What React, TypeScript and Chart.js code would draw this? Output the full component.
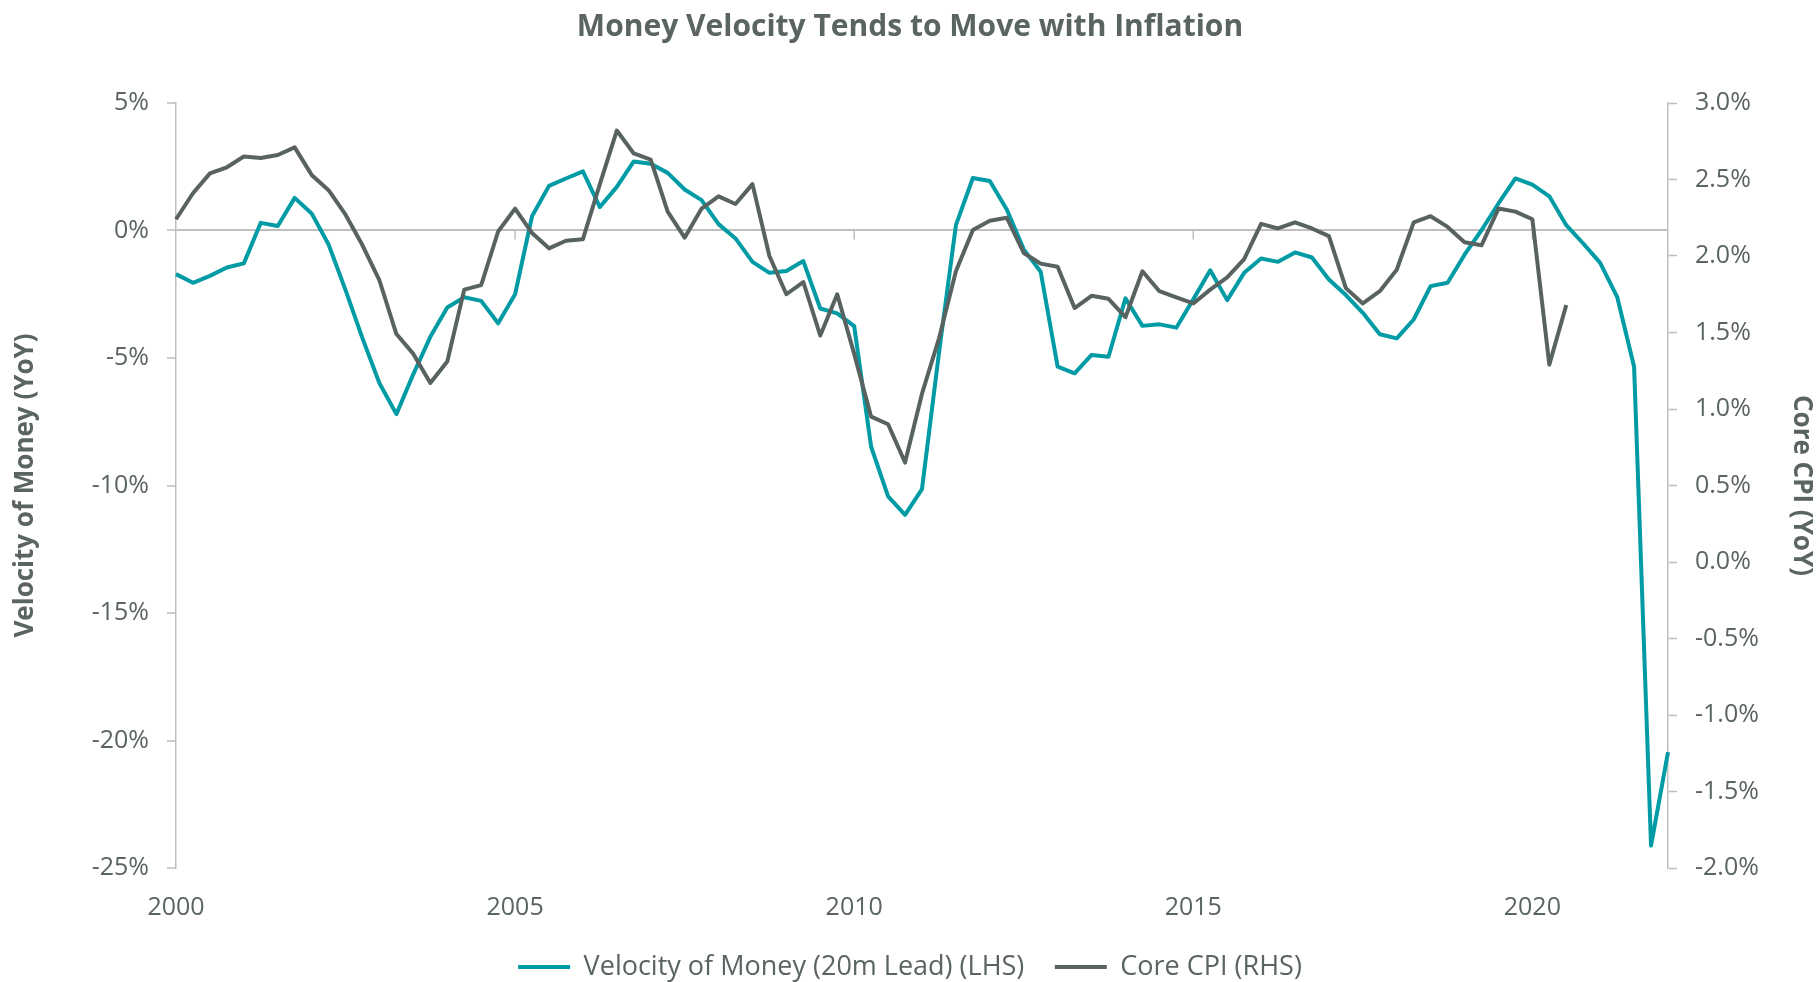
import React, { useEffect, useRef } from 'react';
import { Chart, registerables } from 'chart.js';

Chart.register(...registerables);

// Quarterly observations, 2000 Q1 .. 2022 Q1
const firstYear = 2000;
const quarterCount = 89;
const quarterLabels: string[] = [];
for (let i = 0; i < quarterCount; i++) {
  quarterLabels.push(`${firstYear + Math.floor(i / 4)} Q${(i % 4) + 1}`);
}

// Velocity of Money, YoY %, shifted 20 months forward (left axis)
const velocity: number[] = [
  -1.71, -2.05, -1.78, -1.45, -1.29, 0.30, 0.18, 1.28, 0.67, -0.55,
  -2.34, -4.23, -5.99, -7.20, -5.63, -4.17, -3.02, -2.62, -2.76, -3.64,
  -2.50, 0.56, 1.75, 2.04, 2.32, 0.92, 1.71, 2.71, 2.62, 2.26,
  1.61, 1.19, 0.25, -0.31, -1.23, -1.66, -1.59, -1.20, -3.06, -3.25,
  -3.75, -8.48, -10.43, -11.15, -10.14, -4.80, 0.21, 2.06, 1.94, 0.82,
  -0.74, -1.62, -5.34, -5.60, -4.88, -4.95, -2.66, -3.74, -3.68, -3.81,
  -2.70, -1.56, -2.73, -1.66, -1.10, -1.23, -0.86, -1.06, -1.92, -2.53,
  -3.23, -4.07, -4.23, -3.49, -2.18, -2.05, -0.95, 0.01, 1.06, 2.04,
  1.80, 1.34, 0.21, -0.51, -1.27, -2.60, -5.34, -24.12, -20.46,
];

// Core CPI, YoY % (right axis)
const coreCpi: number[] = [
  2.24, 2.41, 2.54, 2.58, 2.65, 2.64, 2.66, 2.71, 2.53, 2.43,
  2.27, 2.07, 1.84, 1.49, 1.36, 1.17, 1.31, 1.78, 1.81, 2.16,
  2.31, 2.15, 2.05, 2.10, 2.11, 2.47, 2.82, 2.67, 2.63, 2.29,
  2.12, 2.31, 2.39, 2.34, 2.47, 2.00, 1.75, 1.83, 1.48, 1.75,
  1.36, 0.95, 0.90, 0.65, 1.10, 1.46, 1.90, 2.17, 2.23, 2.25,
  2.02, 1.95, 1.93, 1.66, 1.74, 1.72, 1.60, 1.90, 1.77, 1.73,
  1.69, 1.78, 1.86, 1.98, 2.21, 2.18, 2.22, 2.18, 2.13, 1.79,
  1.69, 1.77, 1.91, 2.22, 2.26, 2.19, 2.09, 2.07, 2.31, 2.29,
  2.24, 1.29, 1.68,
];

const leftTicks = { min: -25, max: 5, step: 5 };
const rightTicks = { min: -2, max: 3, step: 0.5 };
const yearLabelEvery = 20; // every 5 years = 20 quarters

const TEAL = '#009BA4';
const GRAY = '#586361';
const TEXT = '#5A6461';
const AXIS = '#BFBFBF';
const FONT = '"Open Sans", "Noto Sans", sans-serif';

const zeroLineTicks = {
  id: 'zeroLineTicks',
  beforeDatasetsDraw(chart: any) {
    const xs = chart.scales.x;
    const ys = chart.scales.yL;
    const ctx = chart.ctx;
    const y0 = ys.getPixelForValue(0);
    ctx.save();
    ctx.strokeStyle = AXIS;
    ctx.lineWidth = 1.5;
    for (let i = yearLabelEvery; i < quarterLabels.length; i += yearLabelEvery) {
      const px = xs.getPixelForValue(i);
      ctx.beginPath();
      ctx.moveTo(px, y0);
      ctx.lineTo(px, y0 + 9);
      ctx.stroke();
    }
    ctx.restore();
  },
};

export default function App() {
  const canvasRef = useRef<HTMLCanvasElement | null>(null);

  useEffect(() => {
    if (!canvasRef.current) return;
    Chart.defaults.font.family = FONT;
    const chart = new Chart(canvasRef.current, {
      type: 'line',
      data: {
        labels: quarterLabels,
        datasets: [
          {
            label: 'Velocity of Money (20m Lead) (LHS)',
            data: velocity,
            yAxisID: 'yL',
            borderColor: TEAL,
            backgroundColor: TEAL,
            borderWidth: 4,
            pointRadius: 0,
            tension: 0,
            borderJoinStyle: 'round',
            order: 1,
          },
          {
            label: 'Core CPI (RHS)',
            data: coreCpi,
            yAxisID: 'yR',
            borderColor: GRAY,
            backgroundColor: GRAY,
            borderWidth: 4,
            pointRadius: 0,
            tension: 0,
            borderJoinStyle: 'round',
            order: 0,
          },
        ],
      },
      options: {
        animation: false,
        responsive: true,
        maintainAspectRatio: false,
        layout: { padding: { left: 0, right: 0, top: 0, bottom: -8.5 } },
        plugins: {
          tooltip: { enabled: false },
          title: {
            display: true,
            text: 'Money Velocity Tends to Move with Inflation',
            color: TEXT,
            font: { size: 30, weight: 'bold', family: FONT },
            padding: { top: 9.8, bottom: 57.2 },
          },
          legend: {
            position: 'bottom',
            labels: {
              sort: (a: any, b: any) => a.datasetIndex - b.datasetIndex,
              boxWidth: 52,
              boxHeight: 4,
              padding: 30.5,
              color: TEXT,
              font: { size: 27, family: FONT },
              generateLabels(c: any) {
                const items = Chart.defaults.plugins.legend.labels.generateLabels(c);
                items.forEach((it: any) => {
                  it.lineWidth = 0;
                  it.fillStyle = it.strokeStyle;
                });
                return items;
              },
            },
          },
        },
        scales: {
          x: {
            type: 'category',
            grid: { display: false, drawTicks: false },
            border: { display: false },
            ticks: {
              autoSkip: false,
              maxRotation: 0,
              minRotation: 0,
              padding: 25,
              color: TEXT,
              font: { size: 25, family: FONT },
              callback: (_v: any, i: number) =>
                i % yearLabelEvery === 0 ? String(firstYear + i / 4) : '',
            },
            afterFit: (s: any) => {
              s.height = 55;
            },
          },
          yL: {
            type: 'linear',
            position: 'left',
            min: leftTicks.min,
            max: leftTicks.max,
            ticks: {
              stepSize: leftTicks.step,
              padding: 18,
              color: TEXT,
              font: { size: 25, family: FONT },
              callback: (v: any) => `${v}%`,
            },
            grid: {
              drawOnChartArea: true,
              color: (ctx: any) => (ctx.tick && ctx.tick.value === 0 ? AXIS : 'rgba(0,0,0,0)'),
              lineWidth: 2,
              tickColor: AXIS,
              tickWidth: 1.5,
              tickLength: 9,
            },
            border: { display: true, color: AXIS, width: 1.5 },
            title: {
              display: true,
              text: 'Velocity of Money (YoY)',
              color: TEXT,
              font: { size: 26, weight: 'bold', family: FONT },
              padding: { top: 9.9, bottom: 0 },
            },
            afterFit: (s: any) => {
              s.width = 176;
            },
          },
          yR: {
            type: 'linear',
            position: 'right',
            min: rightTicks.min,
            max: rightTicks.max,
            ticks: {
              stepSize: rightTicks.step,
              padding: 18,
              color: TEXT,
              font: { size: 25, family: FONT },
              callback: (v: any) => `${Number(v).toFixed(1)}%`,
            },
            grid: {
              drawOnChartArea: false,
              tickColor: AXIS,
              tickWidth: 1.5,
              tickLength: 9,
            },
            border: { display: true, color: AXIS, width: 1.5 },
            title: {
              display: true,
              text: 'Core CPI (YoY)',
              color: TEXT,
              font: { size: 26, weight: 'bold', family: FONT },
              padding: { top: 3.4, bottom: 0 },
            },
            afterFit: (s: any) => {
              s.width = 152;
            },
          },
        },
      },
      plugins: [zeroLineTicks],
    } as any);
    return () => chart.destroy();
  }, []);

  return (
    <div style={{ position: 'absolute', left: 0, top: 0, width: 1820, height: 982, background: '#ffffff' }}>
      <canvas ref={canvasRef} />
    </div>
  );
}
